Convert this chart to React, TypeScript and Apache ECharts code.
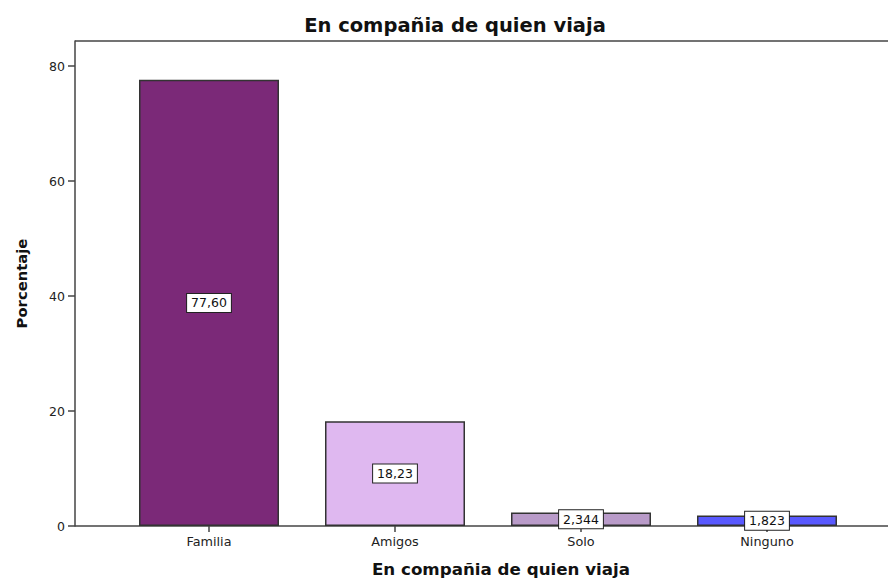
import React, { useEffect, useRef } from "react";
import * as echarts from "echarts";

const categories = ["Familia", "Amigos", "Solo", "Ninguno"];
const values = [77.6, 18.23, 2.344, 1.823];
const valueLabels = ["77,60", "18,23", "2,344", "1,823"];
const barColors = ["#7b2978", "#dfb8f0", "#b99bc9", "#5959ff"];
const yTicks = [0, 20, 40, 60, 80];
const titleText = "En compañia de quien viaja";
const xName = "En compañia de quien viaja";
const yName = "Porcentaje";

const FONT = "'DejaVu Sans', sans-serif";
const AXIS = "#444";

export default function App() {
  const ref = useRef<HTMLDivElement>(null);
  useEffect(() => {
    document.body.style.margin = "0";
    const chart = echarts.init(ref.current!, null, { renderer: "svg" });
    chart.setOption({
      animation: false,
      backgroundColor: "#fff",
      textStyle: { fontFamily: FONT },
      title: {
        text: titleText,
        left: 450,
        textAlign: "center",
        top: 10,
        textStyle: { fontSize: 19.5, fontWeight: "bold", color: "#111", fontFamily: FONT },
      },
      grid: { left: 116, right: 28, top: 41, bottom: 55, outerBoundsMode: "none", containLabel: false },
      xAxis: {
        type: "category",
        data: categories,
        axisLine: { show: false },
        axisTick: { show: true, alignWithLabel: true, length: 6, lineStyle: { color: AXIS, width: 1.5 } },
        axisLabel: { color: "#222", fontSize: 12.8, margin: 9, fontFamily: FONT },
        name: xName,
        nameLocation: "middle",
        nameGap: 34,
        nameTextStyle: { fontSize: 16.7, fontWeight: "bold", color: "#111", fontFamily: FONT, padding: [0, 0, 0, 26] },
      },
      yAxis: {
        type: "value",
        min: 0,
        max: 84.35,
        interval: 20,
        offset: 41,
        splitLine: { show: false },
        axisLine: { show: true, lineStyle: { color: AXIS, width: 1.5 } },
        axisTick: { show: true, length: 7, customValues: yTicks, lineStyle: { color: AXIS, width: 1.5 } },
        axisLabel: { color: "#222", fontSize: 12.5, margin: 10, customValues: yTicks, fontFamily: FONT },
        name: yName,
        nameLocation: "middle",
        nameRotate: 90,
        nameGap: 46,
        nameTextStyle: { fontSize: 14.8, fontWeight: "bold", color: "#111", fontFamily: FONT },
      },
      graphic: [
        { type: "line", shape: { x1: 75, y1: 41, x2: 888, y2: 41 }, style: { stroke: AXIS, lineWidth: 1.5 } },
        { type: "line", shape: { x1: 75, y1: 526, x2: 888, y2: 526 }, style: { stroke: AXIS, lineWidth: 1.5 }, z: 10 },
      ],
      series: [
        {
          type: "bar",
          barWidth: 140,
          data: values.map((v, i) => ({
            value: v,
            itemStyle: { color: barColors[i], borderColor: "#333", borderWidth: 1.5 },
          })),
          label: {
            show: true,
            position: "inside",
            formatter: (p: any) => valueLabels[p.dataIndex],
            backgroundColor: "#fff",
            borderColor: "#222",
            borderWidth: 1,
            padding: [3, 4, 2, 4],
            fontSize: 12.5,
            color: "#111",
            fontFamily: FONT,
          },
          z: 20,
        },
      ],
    });
    return () => chart.dispose();
  }, []);
  return <div ref={ref} style={{ width: 888, height: 581 }} />;
}
